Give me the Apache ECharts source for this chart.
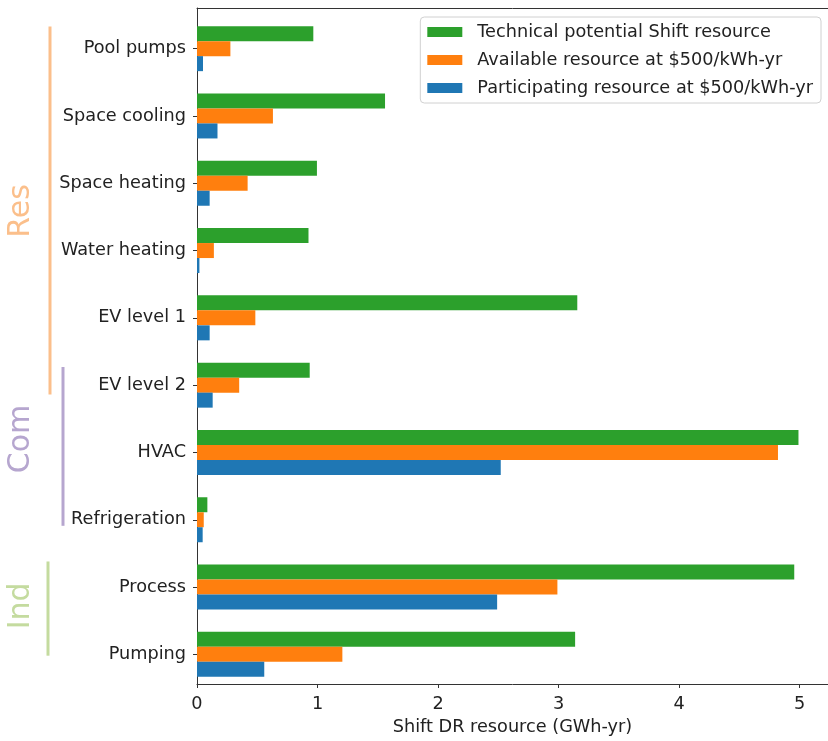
<!DOCTYPE html>
<html>
<head>
<meta charset="utf-8">
<script src="https://cdn.jsdelivr.net/npm/echarts@6/dist/echarts.min.js"></script>
<style>
  html, body { margin: 0; padding: 0; background: #fff; }
  #main { width: 828px; height: 741px; }
</style>
</head>
<body>
<div id="main"></div>
<script>
// categories, top to bottom
var categories = ['Pool pumps', 'Space cooling', 'Space heating', 'Water heating', 'EV level 1',
  'EV level 2', 'HVAC', 'Refrigeration', 'Process', 'Pumping'];

// GWh-yr
var technical = [0.965, 1.56, 0.995, 0.925, 3.155, 0.935, 4.99, 0.086, 4.955, 3.137];
var available = [0.277, 0.63, 0.42, 0.14, 0.484, 0.35, 4.82, 0.056, 2.99, 1.206];
var participating = [0.05, 0.17, 0.105, 0.02, 0.105, 0.13, 2.52, 0.047, 2.49, 0.558];

var seriesNames = ['Technical potential Shift resource', 'Available resource at $500/kWh-yr',
  'Participating resource at $500/kWh-yr'];
var xTicks = [0, 1, 2, 3, 4, 5];

// sector brackets on the left (in category index units)
var groupNames = ['Res', 'Com', 'Ind'];
var groupSpans = [[-0.33, 5.14], [4.73, 7.09], [7.62, 9.02]];
var groupLabelPos = [2.41, 5.8, 8.28];
var groupColors = ['#fbbf8b', '#b6a6cf', '#c4db9f'];
var groupLineX = [50, 63, 48];

var font = 'DejaVu Sans';
var fs = 17.7;
var textColor = '#222';
var xMax = 5.235;

var myChart = echarts.init(document.getElementById('main'));

var option = {
  animation: false,
  grid: [
    // bars
    { left: 197, right: 0, top: 15, bottom: 53 },
    // frame / spines
    { left: 197, right: 0, top: 8, bottom: 47 }
  ],
  legend: {
    orient: 'vertical',
    right: 7,
    top: 17,
    data: seriesNames,
    itemWidth: 35,
    itemHeight: 10,
    itemGap: 8,
    padding: [5, 8, 5, 7],
    borderColor: '#d0d0d0',
    borderWidth: 1,
    borderRadius: 4,
    backgroundColor: '#fff',
    icon: 'rect',
    textStyle: {
      fontFamily: font,
      fontSize: fs,
      color: textColor,
      lineHeight: 20,
      padding: [0, 0, 0, 10]
    }
  },
  xAxis: [{
    gridIndex: 0,
    type: 'value',
    min: 0,
    max: xMax,
    show: false
  }, {
    gridIndex: 1,
    type: 'value',
    min: 0,
    max: xMax,
    interval: 1,
    position: 'bottom',
    name: 'Shift DR resource (GWh-yr)',
    nameLocation: 'middle',
    nameGap: 34,
    nameTextStyle: { fontFamily: font, fontSize: fs, color: textColor },
    axisLine: { show: true, lineStyle: { color: '#333', width: 1 } },
    axisTick: { show: true, length: 4, customValues: xTicks, lineStyle: { color: '#333' } },
    axisLabel: {
      fontFamily: font,
      fontSize: fs,
      color: textColor,
      margin: 11,
      customValues: xTicks,
      formatter: function(v) {
        return xTicks.indexOf(v) >= 0 ? String(v) : '';
      }
    },
    splitLine: { show: false }
  }, {
    gridIndex: 1,
    type: 'value',
    min: 0,
    max: xMax,
    position: 'top',
    axisLine: { show: true, lineStyle: { color: '#333', width: 1 } },
    axisTick: { show: false },
    axisLabel: { show: false },
    splitLine: { show: false }
  }],
  yAxis: [{
    gridIndex: 0,
    type: 'category',
    data: categories,
    inverse: true,
    axisLine: { show: false },
    axisTick: { show: true, alignWithLabel: true, length: 4, lineStyle: { color: '#333' } },
    axisLabel: { fontFamily: font, fontSize: fs, color: textColor, margin: 11 }
  }, {
    gridIndex: 1,
    type: 'value',
    min: 0,
    max: 1,
    axisLine: { show: true, lineStyle: { color: '#333', width: 1 } },
    axisTick: { show: false },
    axisLabel: { show: false },
    splitLine: { show: false }
  }],
  series: [{
    name: seriesNames[0],
    type: 'bar',
    xAxisIndex: 0,
    yAxisIndex: 0,
    data: technical,
    barWidth: 15,
    barGap: '0%',
    itemStyle: { color: '#2ca02c' }
  }, {
    name: seriesNames[1],
    type: 'bar',
    xAxisIndex: 0,
    yAxisIndex: 0,
    data: available,
    barWidth: 15,
    barGap: '0%',
    itemStyle: { color: '#ff7f0e' }
  }, {
    name: seriesNames[2],
    type: 'bar',
    xAxisIndex: 0,
    yAxisIndex: 0,
    data: participating,
    barWidth: 15,
    barGap: '0%',
    itemStyle: { color: '#1f77b4' }
  }]
};

myChart.setOption(option);

// sector brackets, placed from the category axis
var y0 = myChart.convertToPixel({ yAxisIndex: 0 }, 0);
var y1 = myChart.convertToPixel({ yAxisIndex: 0 }, 1);
var step = y1 - y0;
function catY(i) { return y0 + i * step; }

var graphics = [];
for (var g = 0; g < groupNames.length; g++) {
  graphics.push({
    type: 'line',
    shape: { x1: groupLineX[g], y1: catY(groupSpans[g][0]), x2: groupLineX[g], y2: catY(groupSpans[g][1]) },
    style: { stroke: groupColors[g], lineWidth: 3 }
  });
  graphics.push({
    type: 'text',
    x: 21,
    y: catY(groupLabelPos[g]),
    rotation: Math.PI / 2,
    style: {
      text: groupNames[g],
      fill: groupColors[g],
      font: '30px "DejaVu Sans"',
      textAlign: 'center',
      textVerticalAlign: 'middle'
    }
  });
}
myChart.setOption({ graphic: graphics });
</script>
</body>
</html>
